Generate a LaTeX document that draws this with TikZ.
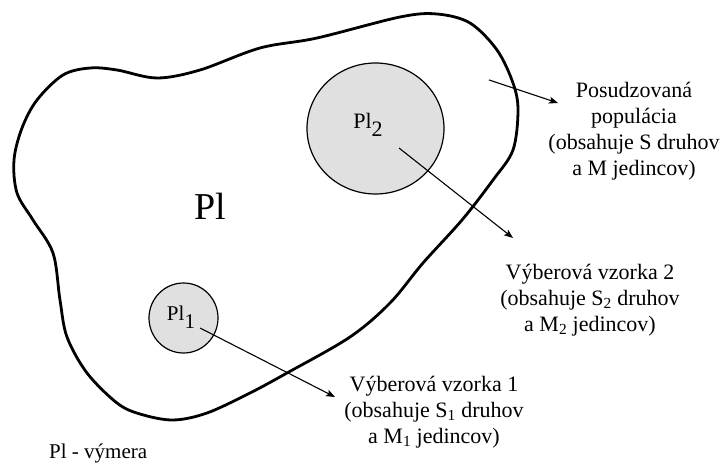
\documentclass[tikz,border=0pt]{standalone}
\usepackage{fontspec}
\setmainfont{Liberation Serif}
\usetikzlibrary{shapes.geometric,arrows.meta}
\definecolor{areagray}{HTML}{E0E0E0}
\begin{document}
\begin{tikzpicture}[x=1pt,y=-1pt,
  blob/.style={line width=2.8pt},
  samplearea/.style={ellipse,draw,line width=1.2pt,fill=areagray,inner sep=0pt},
  arealabel/.style={font=\fontsize{21}{24}\selectfont,inner sep=0pt},
  note/.style={align=center,anchor=north,inner sep=0pt,font=\fontsize{22}{26}\selectfont},
  pointer/.style={line width=1.1pt,-{Stealth[length=9pt,width=7pt,inset=2pt]}}]
\useasboundingbox (0,0) rectangle (721,465);
% population outline
\draw[blob] plot[smooth cycle,tension=0.55] coordinates {
 (90,68) (117,70) (157,78) (200,70) (260,48) (317,38) (400,17) (437,14)
 (470,23) (497,50) (513,83) (518,110) (513,150) (493,180) (462,220)
 (423,263) (390,303) (350,337) (287,373) (250,393) (207,413) (173,420)
 (140,414) (117,403) (87,373) (67,337) (60,300) (53,253) (33,220)
 (17,193) (14,160) (22,128) (37,100) (63,75)};
% sample areas
\node[samplearea,minimum width=137pt,minimum height=131pt] (c2) at (375.5,128.5) {};
\node[samplearea,minimum width=69pt,minimum height=70pt] (c1) at (183.5,318) {};
\node[arealabel,font=\fontsize{22}{24}\selectfont] (l2) at (368,125) {Pl\raisebox{-0.38em}{2}};
\node[arealabel] (l1) at (181,317) {Pl\raisebox{-0.38em}{1}};
\node[inner sep=0pt,font=\fontsize{38}{40}\selectfont] (pl) at (210,206) {Pl};
% texts
\node[note] (t3) at (634,82) {Posudzovaná\\populácia\\(obsahuje S druhov\\a M jedincov)};
\node[note] (t2) at (590,264) {Výberová vzorka 2\\(obsahuje S\textsubscript{2} druhov\\a M\textsubscript{2} jedincov)};
\node[note] (t1) at (434,376) {Výberová vzorka 1\\(obsahuje S\textsubscript{1} druhov\\a M\textsubscript{1} jedincov)};
\node[anchor=base west,inner sep=0pt,font=\fontsize{21}{24}\selectfont] (leg) at (49,458) {Pl - výmera};
% pointers
\coordinate (a1s) at (200,328); \coordinate (a1e) at (335,397);
\coordinate (a2s) at (399,148); \coordinate (a2e) at (513,238);
\coordinate (a3s) at (489,80);  \coordinate (a3e) at (558,103);
\draw[pointer] (a1s) -- (a1e);
\draw[pointer] (a2s) -- (a2e);
\draw[pointer] (a3s) -- (a3e);
\end{tikzpicture}
\end{document}
